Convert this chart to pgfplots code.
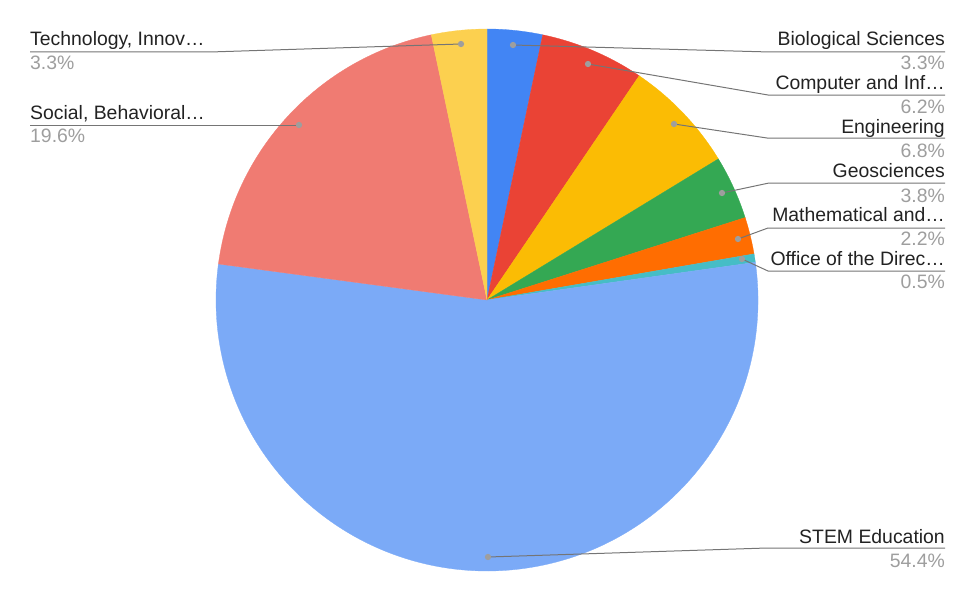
\documentclass[border=0pt]{standalone}
\usepackage{pgfplots}
\usepackage{pgfplotstable}
\pgfplotsset{compat=1.18}
\usepackage{fontspec}
\setmainfont{Liberation Sans}
\definecolor{cBio}{HTML}{4285F4}
\definecolor{cComp}{HTML}{EA4335}
\definecolor{cEng}{HTML}{FBBC04}
\definecolor{cGeo}{HTML}{34A853}
\definecolor{cMath}{HTML}{FF6D01}
\definecolor{cOff}{HTML}{46BDC6}
\definecolor{cStem}{HTML}{7BAAF7}
\definecolor{cSoc}{HTML}{F07B72}
\definecolor{cTech}{HTML}{FCD04F}
\definecolor{lead}{HTML}{757575}
\definecolor{dotc}{HTML}{9E9E9E}
\definecolor{pct}{HTML}{9E9E9E}
\definecolor{nm}{HTML}{222222}
\tikzset{
  labR/.style={anchor=base east, inner sep=0pt, font=\fontsize{19.4}{22}\selectfont},
  labL/.style={anchor=base west, inner sep=0pt, font=\fontsize{19.4}{22}\selectfont},
}
\pgfplotstableread{
value
3.3
6.2
6.8
3.8
2.2
0.5
54.4
19.6
3.3
}\piedata
\begin{document}
\begin{tikzpicture}
\begin{axis}[
  width=977pt, height=602pt, scale only axis,
  xmin=0, xmax=977, ymin=0, ymax=602, y dir=reverse,
  hide axis, clip=false,
  leadline/.style={solid, color=lead, line width=1pt, mark=*, mark indices={1}, mark size=2.6pt, mark options={solid, draw=dotc, fill=dotc}},
]
\path (axis cs:0,0) rectangle (axis cs:977,602);
\gdef\cum{0}
\foreach \i/\col in {0/cBio,1/cComp,2/cEng,3/cGeo,4/cMath,5/cOff,6/cStem,7/cSoc,8/cTech}{
  \pgfplotstablegetelem{\i}{value}\of\piedata
  \pgfmathsetmacro\aone{90-3.5964*\cum}
  \pgfmathsetmacro\atwo{90-3.5964*(\cum+\pgfplotsretval)}
  \edef\tmp{\noexpand\fill[\col, draw=\col, line width=0.3pt, line join=round] (axis cs:487,300) -- ++(\aone:271pt) arc[start angle=\aone, end angle=\atwo, radius=271pt] -- cycle;}
  \tmp
  \pgfmathsetmacro\newcum{\cum+\pgfplotsretval}
  \xdef\cum{\newcum}
}
\addplot[leadline] coordinates {(513,45) (770,52) (945,52)};
\addplot[leadline] coordinates {(588,64) (768,95) (945,95)};
\addplot[leadline] coordinates {(674,124) (767,138) (945,138)};
\addplot[leadline] coordinates {(722,193) (769,183) (945,183)};
\addplot[leadline] coordinates {(738,239) (768,228) (945,228)};
\addplot[leadline] coordinates {(742,259) (768,271) (945,271)};
\addplot[leadline] coordinates {(488,557) (767,548) (945,548)};
\addplot[leadline] coordinates {(461,44) (210,52) (30,52)};
\addplot[leadline] coordinates {(299,125) (30,125)};
\node[labR, text=nm] at (axis cs:945,46) {Biological Sciences};
\node[labR, text=pct] at (axis cs:945,70) {3.3\%};
\node[labR, text=nm] at (axis cs:945,89) {Computer and Inf…};
\node[labR, text=pct] at (axis cs:945,113) {6.2\%};
\node[labR, text=nm] at (axis cs:945,133) {Engineering};
\node[labR, text=pct] at (axis cs:945,157) {6.8\%};
\node[labR, text=nm] at (axis cs:945,177) {Geosciences};
\node[labR, text=pct] at (axis cs:945,202) {3.8\%};
\node[labR, text=nm] at (axis cs:945,221) {Mathematical and…};
\node[labR, text=pct] at (axis cs:945,245) {2.2\%};
\node[labR, text=nm] at (axis cs:945,265) {Office of the Direc…};
\node[labR, text=pct] at (axis cs:945,288) {0.5\%};
\node[labR, text=nm] at (axis cs:945,543) {STEM Education};
\node[labR, text=pct] at (axis cs:945,567) {54.4\%};
\node[labL, text=nm] at (axis cs:30,46) {Technology, Innov…};
\node[labL, text=pct] at (axis cs:30,70) {3.3\%};
\node[labL, text=nm] at (axis cs:30,119) {Social, Behavioral…};
\node[labL, text=pct] at (axis cs:30,142) {19.6\%};
\end{axis}
\end{tikzpicture}
\end{document}
